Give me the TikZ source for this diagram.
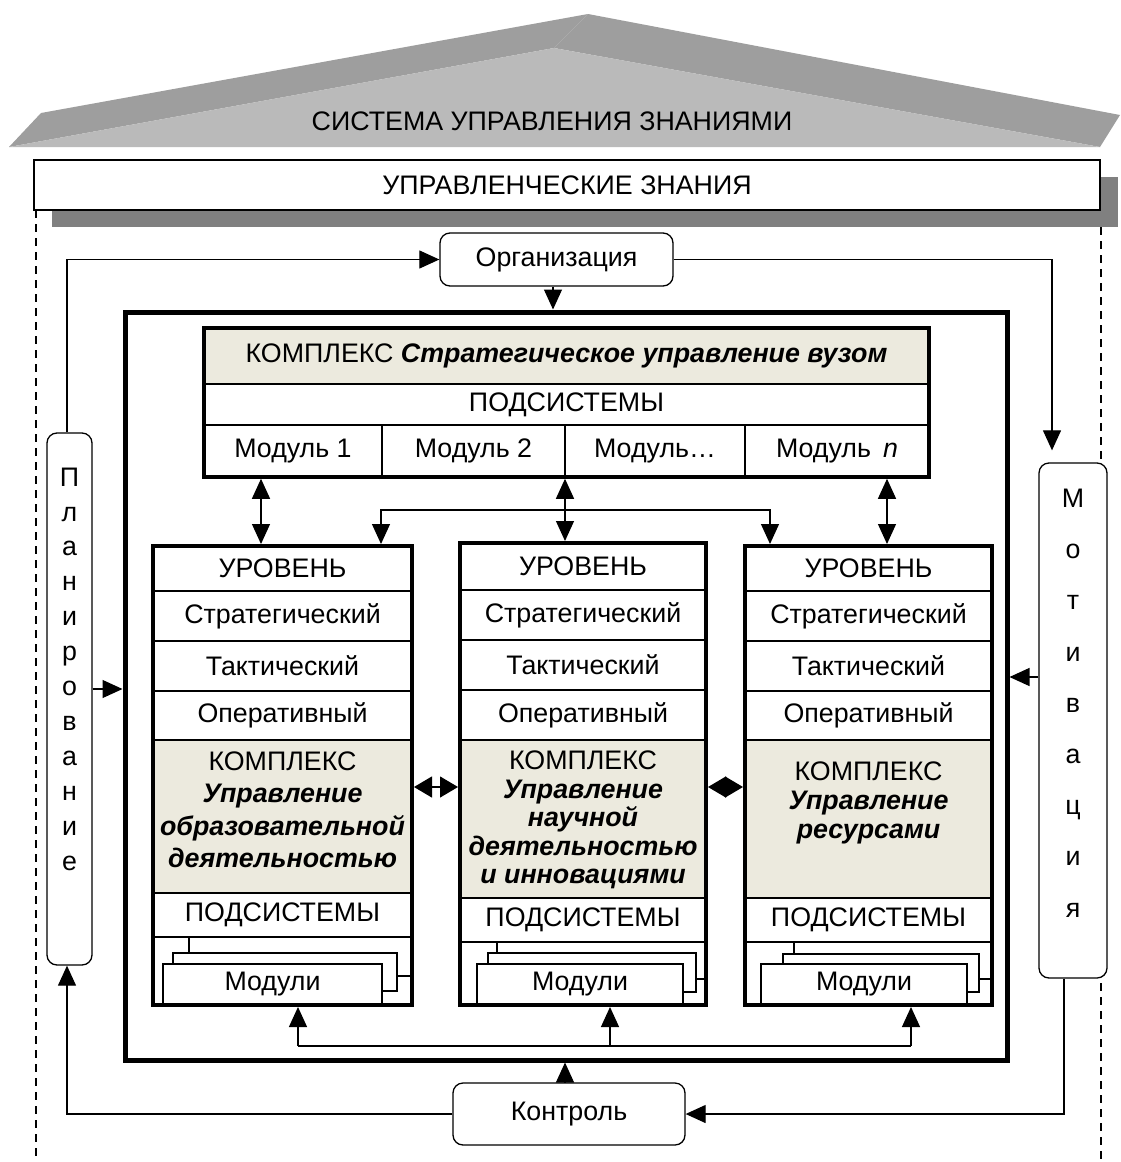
\documentclass[tikz,border=0pt]{standalone}
\usepackage{fontspec}
\setmainfont{Liberation Sans}
\usetikzlibrary{arrows.meta,fit}
\definecolor{beige}{RGB}{236,234,222}
\definecolor{roofside}{RGB}{158,158,158}
\definecolor{rooffront}{RGB}{186,186,186}
\definecolor{shadowgray}{RGB}{128,128,128}
\newcommand{\fs}{\fontsize{26.8}{30}\selectfont}
\newcommand{\bi}[1]{\textbf{\textit{#1}}}
\begin{document}
\begin{tikzpicture}[x=1pt,y=-1pt,
  every node/.style={font=\fs, inner sep=0pt},
  cell/.style={draw, line width=1.3pt, outer sep=0pt, anchor=north west, align=center},
  rbox/.style={draw, line width=1.3pt, rounded corners=10pt, fill=white},
  conn/.style={line width=1.2pt, -{Triangle[length=20pt,width=18pt]}},
  dconn/.style={line width=1.2pt, {Triangle[length=20pt,width=18pt]}-{Triangle[length=20pt,width=18pt]}},
  hconn/.style={line width=1.2pt, {Triangle[length=18pt,width=21pt]}-{Triangle[length=18pt,width=21pt]}},
  plainline/.style={line width=1.2pt},
  dashline/.style={line width=1.6pt, dash pattern=on 8pt off 6pt},
  colframe/.style={draw, line width=4pt, inner sep=0pt},
  modbox/.style={draw, line width=1.3pt, fill=white, outer sep=0pt, anchor=north west}
]
\useasboundingbox (0,0) rectangle (1120,1162);
\fill[white] (0,0) rectangle (1120,1162);

% roof
\fill[roofside] (9,147) -- (41,113) -- (588,14) -- (554,48) -- cycle;
\fill[roofside] (554,48) -- (588,14) -- (1120,115) -- (1100,147) -- cycle;
\fill[rooffront] (9,147) -- (554,48) -- (1100,147) -- cycle;
\node (sys) at (552,121) {СИСТЕМА УПРАВЛЕНИЯ ЗНАНИЯМИ};

% banner
\fill[shadowgray] (52,177) rectangle (1118,227);
\node[draw, line width=1.5pt, fill=white, minimum width=1066pt, minimum height=50pt] (mk) at (567,185) {УПРАВЛЕНЧЕСКИЕ ЗНАНИЯ};

% dashed borders
\coordinate (d1) at (36,210); \coordinate (d2) at (36,1162);
\coordinate (d3) at (1101,227); \coordinate (d4) at (1101,1162);
\draw[dashline] (d1) -- (d2);
\draw[dashline] (d3) -- (d4);

% main frame
\node[draw, line width=5pt, minimum width=882pt, minimum height=748pt] (frame) at (566,686) {};

% side boxes
\node[rbox, minimum width=233pt, minimum height=53pt] (org) at (556.5,259.5) {Организация};
\node[rbox, minimum width=232pt, minimum height=62pt] (ctrl) at (569,1114) {Контроль};
\node[rbox, minimum width=45pt, minimum height=532pt] (plan) at (69.5,699) {};
\node[align=center, font=\fontsize{26.8}{34.9}\selectfont] (plantxt) at (69.5,669) {П\\л\\а\\н\\и\\р\\о\\в\\а\\н\\и\\е};
\node[rbox, minimum width=68pt, minimum height=515pt] (motiv) at (1073,720.5) {};
\node[align=center, font=\fontsize{26.8}{51.2}\selectfont] (motivtxt) at (1073,703) {М\\о\\т\\и\\в\\а\\ц\\и\\я};

% top complex
\node[cell, fill=beige, minimum width=725pt, minimum height=56pt] (t1) at (204,328) {КОМПЛЕКС \bi{Стратегическое управление вузом}};
\node[cell, minimum width=725pt, minimum height=41pt] (t2) at (204,384) {ПОДСИСТЕМЫ};
\node[cell, minimum width=178pt, minimum height=52pt] (t3) at (204,425) {Модуль 1};
\node[cell, minimum width=183pt, minimum height=52pt] (t4) at (382,425) {Модуль 2};
\node[cell, minimum width=180pt, minimum height=52pt] (t5) at (565,425) {Модуль…};
\node[cell, minimum width=184pt, minimum height=52pt] (t6) at (745,425) {Модуль\hspace{0.45em}\textit{n}};
\node[draw, line width=3.5pt, inner sep=0pt, fit=(t1)(t6)] (top) {};

% column 1
\node[cell, minimum width=259pt, minimum height=45pt] (c1a) at (153,546) {УРОВЕНЬ};
\node[cell, minimum width=259pt, minimum height=50pt] (c1b) at (153,591) {Стратегический};
\node[cell, minimum width=259pt, minimum height=50pt] (c1c) at (153,641) {Тактический};
\node[cell, minimum width=259pt, minimum height=49pt] (c1d) at (153,691) {Оперативный};
\node[cell, fill=beige, minimum width=259pt, minimum height=153pt, font=\fontsize{26.8}{32.5}\selectfont, text depth=14pt] (c1e) at (153,740) {КОМПЛЕКС\\\bi{Управление}\\\bi{образовательной}\\\bi{деятельностью}};
\node[cell, minimum width=259pt, minimum height=44pt] (c1f) at (153,893) {ПОДСИСТЕМЫ};
\node[cell, draw=none, minimum width=259pt, minimum height=68pt] (c1g) at (153,937) {};
\node[modbox, minimum width=223pt, minimum height=39pt] (c1m3) at (189,937) {};
\node[modbox, minimum width=224pt, minimum height=38pt] (c1m2) at (173,953) {};
\node[modbox, minimum width=219pt, minimum height=41pt] (c1m1) at (163,964) {Модули};
\node[colframe, fit=(c1a)(c1g)] (col1) {};

% column 2
\node[cell, minimum width=246pt, minimum height=47pt] (c2a) at (460,543) {УРОВЕНЬ};
\node[cell, minimum width=246pt, minimum height=50pt] (c2b) at (460,590) {Стратегический};
\node[cell, minimum width=246pt, minimum height=50pt] (c2c) at (460,640) {Тактический};
\node[cell, minimum width=246pt, minimum height=50pt] (c2d) at (460,690) {Оперативный};
\node[cell, fill=beige, minimum width=246pt, minimum height=158pt, font=\fontsize{26.8}{28.5}\selectfont, text depth=3pt] (c2e) at (460,740) {КОМПЛЕКС\\\bi{Управление}\\\bi{научной}\\\bi{деятельностью}\\\bi{и инновациями}};
\node[cell, minimum width=246pt, minimum height=44pt] (c2f) at (460,898) {ПОДСИСТЕМЫ};
\node[cell, draw=none, minimum width=246pt, minimum height=63pt] (c2g) at (460,942) {};
\node[modbox, minimum width=209pt, minimum height=37pt] (c2m3) at (497,942) {};
\node[modbox, minimum width=208pt, minimum height=39pt] (c2m2) at (488,953) {};
\node[modbox, minimum width=206pt, minimum height=41pt] (c2m1) at (477,964) {Модули};
\node[colframe, fit=(c2a)(c2g)] (col2) {};

% column 3
\node[cell, minimum width=247pt, minimum height=45pt] (c3a) at (745,546) {УРОВЕНЬ};
\node[cell, minimum width=247pt, minimum height=50pt] (c3b) at (745,591) {Стратегический};
\node[cell, minimum width=247pt, minimum height=50pt] (c3c) at (745,641) {Тактический};
\node[cell, minimum width=247pt, minimum height=49pt] (c3d) at (745,691) {Оперативный};
\node[cell, fill=beige, minimum width=247pt, minimum height=158pt, font=\fontsize{26.8}{29}\selectfont, text depth=38pt] (c3e) at (745,740) {КОМПЛЕКС\\\bi{Управление}\\\bi{ресурсами}};
\node[cell, minimum width=247pt, minimum height=44pt] (c3f) at (745,898) {ПОДСИСТЕМЫ};
\node[cell, draw=none, minimum width=247pt, minimum height=63pt] (c3g) at (745,942) {};
\node[modbox, minimum width=198pt, minimum height=37pt] (c3m3) at (794,942) {};
\node[modbox, minimum width=196pt, minimum height=38pt] (c3m2) at (783,954) {};
\node[modbox, minimum width=206pt, minimum height=41pt] (c3m1) at (761,964) {Модули};
\node[colframe, fit=(c3a)(c3g)] (col3) {};

% connectors: top box to columns
\coordinate (xa) at (261,0); \coordinate (xb) at (565,0); \coordinate (xc) at (887,0);
\draw[dconn] (top.south -| xa) -- (col1.north -| xa);
\draw[dconn] (top.south -| xb) -- (col2.north -| xb);
\draw[dconn] (top.south -| xc) -- (col3.north -| xc);
\coordinate (bl) at (381,510); \coordinate (br) at (770,510);
\draw[dconn] (col1.north -| bl) -- (bl) -- (br) -- (col3.north -| br);

% between columns
\coordinate (hy) at (0,787);
\draw[hconn] (col1.east |- hy) -- (col2.west |- hy);
\draw[hconn] (col2.east |- hy) -- (col3.west |- hy);

% bottom bus to modules
\coordinate (u1) at (298,1046); \coordinate (u2) at (610,1046); \coordinate (u3) at (911,1046);
\draw[plainline] (u1) -- (u3);
\draw[conn] (u1) -- (u1 |- col1.south);
\draw[conn] (u2) -- (u2 |- col2.south);
\draw[conn] (u3) -- (u3 |- col3.south);

% management cycle
\coordinate (px) at (67,0); \coordinate (mx) at (1052,0); \coordinate (xo) at (553,0);
\coordinate (pa) at (0,689); \coordinate (ma) at (0,677); \coordinate (cx) at (565,0);
\coordinate (mx2) at (1064,0);
\draw[conn] (plan.north -| px) |- (org.west);
\draw[conn, shorten >=12pt] (org.east) -| (motiv.north -| mx);
\draw[conn] (org.south -| xo) -- (frame.north -| xo);
\draw[conn] (plan.east |- pa) -- (frame.west |- pa);
\draw[conn] (motiv.west |- ma) -- (frame.east |- ma);
\draw[conn] (ctrl.north -| cx) -- (frame.south -| cx);
\draw[conn] (ctrl.west) -| (plan.south -| px);
\draw[conn] (motiv.south -| mx2) |- (ctrl.east);
\end{tikzpicture}
\end{document}
